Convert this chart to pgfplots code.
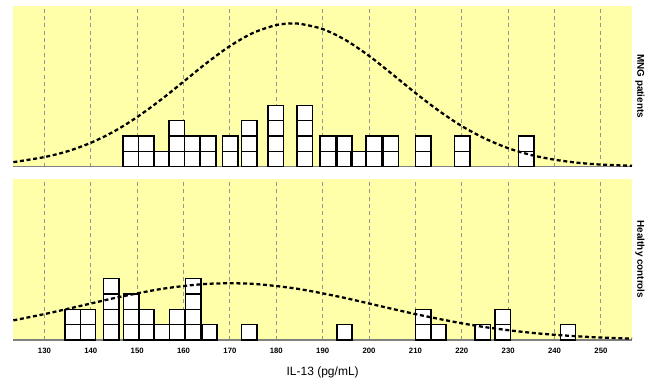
\documentclass[border=0pt]{standalone}
\usepackage{fontspec}
\setmainfont{Liberation Sans}
\usepackage{pgfplots}
\pgfplotsset{compat=1.18}
\definecolor{bgyel}{RGB}{255,255,170}
\definecolor{gridg}{RGB}{150,150,140}
\pgfplotsset{panel/.style={
  scale only axis, width=464pt, height=120.75pt,
  xmin=123.3, xmax=256.7, ymin=0, ymax=10.5,
  axis x line=bottom, axis y line=none,
  x axis line style={-, draw=gray, line width=0.9pt},
  axis background/.style={fill=bgyel},
  xmajorgrids,
  every major grid/.style={color=gridg, solid, dash pattern=on 3pt off 2.5pt, line width=0.75pt},
  xtick={130,140,...,250}, ytick=\empty,
  major tick length=0pt,
  /pgf/number format/assume math mode=true,
  xticklabel style={font=\fontsize{5.8}{7}\selectfont\bfseries, yshift=-2.5pt},
  clip=false,
},
sq/.style={ybar, bar shift=0pt, bar width=3.32, fill=white, draw=black, line width=1.1pt},
curve/.style={smooth, mark=none, black, line width=1.7pt, dash pattern=on 3pt off 2pt},
}
\begin{document}
\begin{tikzpicture}
\useasboundingbox (0,0) rectangle (486.75pt,287.25pt);
% Top panel: MNG patients
\begin{axis}[panel, at={(10pt,162.2pt)}, anchor=south west, xticklabels=\empty]
\addplot[sq] coordinates {(179.9,4)(186.1,4)};
\addplot[sq] coordinates {(158.5,3)(174.2,3)(179.9,3)(186.1,3)};
\addplot[sq] coordinates {(148.6,2)(152.0,2)(158.5,2)(161.9,2)(165.3,2)(170.1,2)(174.2,2)(179.9,2)(186.1,2)(191.1,2)(194.7,2)(201.0,2)(204.7,2)(211.7,2)(220.1,2)(233.9,2)};
\addplot[sq] coordinates {(148.6,1)(152.0,1)(155.3,1)(158.5,1)(161.9,1)(165.3,1)(170.1,1)(174.2,1)(179.9,1)(186.1,1)(191.1,1)(194.7,1)(197.8,1)(201.0,1)(204.7,1)(211.7,1)(220.1,1)(233.9,1)};
\addplot[curve] coordinates {(123.3,0.30)(130,0.63)(135,1.01)(140,1.56)(145,2.30)(150,3.24)(155,4.34)(160,5.55)(165,6.77)(170,7.87)(175,8.73)(180,9.24)(183.5,9.35)(185,9.33)(190,8.98)(195,8.25)(200,7.23)(205,6.04)(210,4.81)(215,3.66)(220,2.65)(225,1.84)(230,1.21)(235,0.76)(240,0.46)(245,0.26)(250,0.14)(256.7,0.06)};
\node[xshift=6pt, rotate=-90, font=\fontsize{7.4}{9}\selectfont\bfseries] at (rel axis cs:1,0.5) {MNG patients};
\end{axis}
% Bottom panel: Healthy controls
\begin{axis}[panel, at={(10pt,32.25pt)}, anchor=south west,
  xlabel={IL-13 (pg/mL)}, xlabel style={font=\fontsize{9}{11}\selectfont, yshift=-3pt}]
\addplot[sq] coordinates {(144.4,4)(162.1,4)};
\addplot[sq] coordinates {(144.4,3)(148.7,3)(162.1,3)};
\addplot[sq] coordinates {(136.1,2)(139.4,2)(144.4,2)(148.7,2)(152.0,2)(158.6,2)(162.1,2)(211.7,2)(228.8,2)};
\addplot[sq] coordinates {(136.1,1)(139.4,1)(144.4,1)(148.7,1)(152.0,1)(155.3,1)(158.6,1)(162.1,1)(165.6,1)(174.2,1)(194.7,1)(211.7,1)(214.9,1)(224.5,1)(228.8,1)(242.9,1)};
\addplot[curve] coordinates {(123.3,1.28)(130,1.69)(135,2.03)(140,2.38)(145,2.73)(150,3.04)(155,3.32)(160,3.52)(165,3.66)(170,3.70)(175,3.66)(180,3.52)(185,3.32)(190,3.04)(195,2.73)(200,2.38)(205,2.03)(210,1.69)(215,1.38)(220,1.09)(225,0.84)(230,0.64)(235,0.47)(240,0.34)(245,0.24)(250,0.16)(256.7,0.09)};
\node[xshift=6pt, rotate=-90, font=\fontsize{7.4}{9}\selectfont\bfseries] at (rel axis cs:1,0.5) {Healthy controls};
\end{axis}
\end{tikzpicture}
\end{document}
